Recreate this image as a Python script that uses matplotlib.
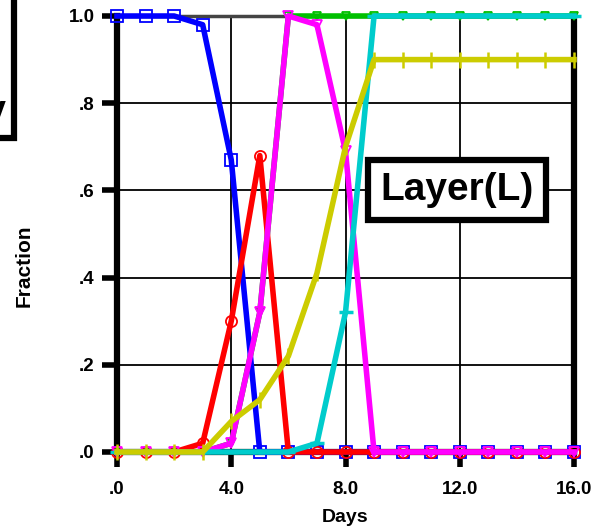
import matplotlib
matplotlib.use("Agg")
import matplotlib.pyplot as plt
from matplotlib.patches import Rectangle

plt.rcParams['font.family'] = ['Liberation Sans', 'DejaVu Sans']

days = list(range(17))
blue = [1.0, 1.0, 1.0, 0.98, 0.67, 0.0, 0.0, 0.0, 0.0, 0.0, 0.0, 0.0, 0.0, 0.0, 0.0, 0.0, 0.0]
red = [0.0, 0.0, 0.0, 0.02, 0.30, 0.68, 0.0, 0.0, 0.0, 0.0, 0.0, 0.0, 0.0, 0.0, 0.0, 0.0, 0.0]
green = [0.0, 0.0, 0.0, 0.0, 0.02, 0.32, 1.0, 1.0, 1.0, 1.0, 1.0, 1.0, 1.0, 1.0, 1.0, 1.0, 1.0]
magenta = [0.0, 0.0, 0.0, 0.0, 0.02, 0.32, 1.0, 0.98, 0.69, 0.0, 0.0, 0.0, 0.0, 0.0, 0.0, 0.0, 0.0]
yellow = [0.0, 0.0, 0.0, 0.0, 0.07, 0.12, 0.22, 0.41, 0.70, 0.90, 0.90, 0.90, 0.90, 0.90, 0.90, 0.90, 0.90]
cyan = [0.0, 0.0, 0.0, 0.0, 0.0, 0.0, 0.0, 0.02, 0.32, 1.0, 1.0, 1.0, 1.0, 1.0, 1.0, 1.0, 1.0]

xticks = [0, 4, 8, 12, 16]
xticklabels = ['.0', '4.0', '8.0', '12.0', '16.0']
yticks = [0, 0.2, 0.4, 0.6, 0.8, 1.0]
yticklabels = ['.0', '.2', '.4', '.6', '.8', '1.0']

fig = plt.figure(figsize=(6.0, 5.31), dpi=100)
ax = fig.add_axes([117/600, 1 - 452/531, 457/600, 436/531])

lw = 4
ax.plot(days, green, color='#00c000', lw=lw, marker='v', ms=6, mfc='none', mew=1.3, clip_on=False, zorder=3)
ax.plot(days, blue, color='#0000ff', lw=lw, marker='s', ms=8, mfc='none', mew=1.3, clip_on=False, zorder=4)
ax.plot(days, red, color='#ff0000', lw=lw, marker='o', ms=8, mfc='none', mew=1.3, clip_on=False, zorder=5)
ax.plot(days, magenta, color='#ff00ff', lw=lw, marker='v', ms=7, mfc='none', mew=1.3, clip_on=False, zorder=6)
ax.plot(days, cyan, color='#00cccc', lw=lw, marker='_', ms=10, mew=2.5, clip_on=False, zorder=6.5)
ax.plot(days, yellow, color='#cccc00', lw=lw, marker='|', ms=11, mew=1.8, clip_on=False, zorder=7)

ax.set_xlim(0, 16)
ax.set_ylim(0, 1.0)
ax.set_xticks(xticks)
ax.set_xticklabels(xticklabels)
ax.set_yticks(yticks)
ax.set_yticklabels(yticklabels)
for lab in ax.get_xticklabels() + ax.get_yticklabels():
    lab.set_fontweight('bold')
    lab.set_fontsize(13.5)
ax.tick_params(direction='out', length=11, width=4, color='black', pad=5)
ax.tick_params(axis='x', pad=10)

ax.grid(True, color='black', lw=1.3)
ax.set_axisbelow(True)

for side in ['left', 'bottom', 'right']:
    ax.spines[side].set_linewidth(4.5)
    ax.spines[side].set_color('black')
ax.spines['top'].set_linewidth(2.5)
ax.spines['top'].set_color('#444444')

ax.set_xlabel('Days', fontsize=14, fontweight='bold', labelpad=8)
ax.set_ylabel('Fraction', fontsize=15, fontweight='bold')
ax.yaxis.set_label_coords(-0.182, 0.427)

# Layer(L) label box
ax.text(0.744, 0.601, 'Layer(L)', transform=ax.transAxes, fontsize=28, fontweight='bold',
        ha='center', va='center', zorder=10,
        bbox=dict(boxstyle='square,pad=0.32', fc='white', ec='black', lw=4.5))

# Partially visible box at top left
fig.patches.append(Rectangle((-0.2, 1 - 138/531), 0.2 + 14/600, 0.5, transform=fig.transFigure,
                             fill=False, ec='black', lw=4.5, clip_on=False))
fig.text(6/600, 1 - 112/531, 'y', fontsize=27, fontweight='bold', ha='right', va='center')

fig.savefig('out.png', dpi=100)
